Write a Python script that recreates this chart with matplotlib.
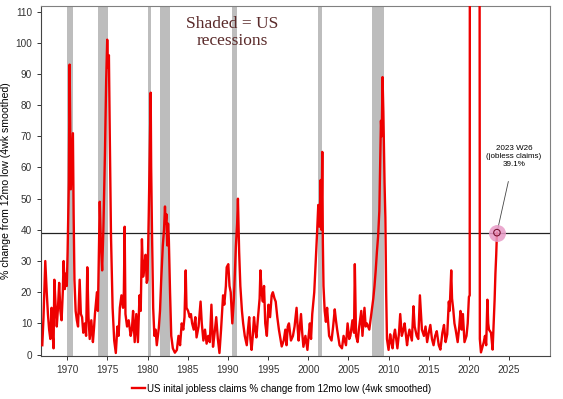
import matplotlib
matplotlib.use("Agg")
import matplotlib.pyplot as plt

plt.rcParams['font.family'] = ['Liberation Sans', 'DejaVu Sans']

# weekly series (year, % change from 12mo low)
years = [
    1966.9, 1967.05, 1967.27, 1967.45, 1967.6, 1967.75, 1967.9, 1968.05, 1968.2, 1968.3,
    1968.4, 1968.55, 1968.7, 1968.85, 1969.0, 1969.15, 1969.3, 1969.45, 1969.55, 1969.7,
    1969.85, 1969.95, 1970.05, 1970.2, 1970.3, 1970.45, 1970.55, 1970.71, 1970.8, 1970.9,
    1971.05, 1971.2, 1971.35, 1971.55, 1971.7, 1971.85, 1972.0, 1972.2, 1972.35, 1972.5,
    1972.65, 1972.8, 1973.0, 1973.2, 1973.35, 1973.45, 1973.7, 1973.82, 1973.9, 1974.05,
    1974.2, 1974.35, 1974.5, 1974.7, 1974.85, 1974.98, 1975.08, 1975.19, 1975.3, 1975.45,
    1975.65, 1975.85, 1976.05, 1976.25, 1976.4, 1976.55, 1976.75, 1976.95, 1977.05, 1977.15,
    1977.25, 1977.45, 1977.65, 1977.9, 1978.05, 1978.2, 1978.4, 1978.6, 1978.8, 1979.0,
    1979.15, 1979.3, 1979.45, 1979.55, 1979.75, 1979.9, 1980.0, 1980.15, 1980.39, 1980.45,
    1980.55, 1980.7, 1980.85, 1981.0, 1981.15, 1981.4, 1981.55, 1981.7, 1981.9, 1982.05,
    1982.17, 1982.25, 1982.35, 1982.45, 1982.55, 1982.65, 1982.8, 1982.95, 1983.15, 1983.4,
    1983.65, 1983.85, 1984.05, 1984.25, 1984.45, 1984.6, 1984.75, 1984.85, 1985.05, 1985.25,
    1985.4, 1985.55, 1985.75, 1985.95, 1986.1, 1986.35, 1986.6, 1986.75, 1986.95, 1987.15,
    1987.35, 1987.55, 1987.75, 1987.95, 1988.15, 1988.35, 1988.55, 1988.75, 1988.95, 1989.15,
    1989.4, 1989.55, 1989.75, 1989.85, 1990.05, 1990.2, 1990.35, 1990.55, 1990.75, 1990.9,
    1991.0, 1991.15, 1991.25, 1991.4, 1991.55, 1991.75, 1991.9, 1992.1, 1992.35, 1992.5,
    1992.65, 1992.8, 1992.95, 1993.1, 1993.25, 1993.4, 1993.55, 1993.75, 1993.95, 1994.05,
    1994.2, 1994.35, 1994.5, 1994.65, 1994.85, 1995.05, 1995.25, 1995.45, 1995.6, 1995.8,
    1995.95, 1996.15, 1996.35, 1996.55, 1996.7, 1996.95, 1997.15, 1997.3, 1997.45, 1997.6,
    1997.85, 1998.1, 1998.3, 1998.55, 1998.7, 1998.8, 1999.1, 1999.25, 1999.4, 1999.65,
    1999.9, 2000.05, 2000.2, 2000.35, 2000.5, 2000.75, 2000.9, 2001.1, 2001.25, 2001.4,
    2001.55, 2001.65, 2001.75, 2001.82, 2001.9, 2002.05, 2002.2, 2002.35, 2002.6, 2002.9,
    2003.1, 2003.3, 2003.45, 2003.6, 2003.9, 2004.2, 2004.4, 2004.7, 2004.9, 2005.1,
    2005.25, 2005.5, 2005.7, 2005.8, 2005.95, 2006.15, 2006.3, 2006.6, 2006.75, 2007.0,
    2007.15, 2007.3, 2007.6, 2007.9, 2008.1, 2008.25, 2008.4, 2008.55, 2008.7, 2008.85,
    2008.95, 2009.05, 2009.15, 2009.25, 2009.35, 2009.5, 2009.6, 2009.7, 2009.8, 2010.0,
    2010.2, 2010.35, 2010.5, 2010.65, 2010.8, 2011.1, 2011.3, 2011.45, 2011.65, 2011.85,
    2012.0, 2012.3, 2012.45, 2012.6, 2012.9, 2013.1, 2013.25, 2013.5, 2013.7, 2013.9,
    2014.15, 2014.4, 2014.6, 2014.8, 2015.0, 2015.2, 2015.4, 2015.6, 2015.8, 2016.0,
    2016.25, 2016.45, 2016.7, 2016.9, 2017.1, 2017.3, 2017.5, 2017.6, 2017.8, 2017.9,
    2018.05, 2018.2, 2018.35, 2018.6, 2018.8, 2018.95, 2019.1, 2019.25, 2019.45, 2019.7,
    2019.85, 2020.0, 2020.1, 2020.22, 2020.6, 2021.0, 2021.3, 2021.36, 2021.5, 2021.7,
    2021.85, 2022.0, 2022.15, 2022.3, 2022.4, 2022.5, 2022.75, 2022.95, 2023.1, 2023.2,
    2023.3, 2023.4, 2023.49,
]
claims_pct = [
    3, 12, 30, 20, 13, 8, 5, 15, 6, 2,
    24, 16, 9, 15, 23, 14, 11, 20, 30, 21,
    26, 22, 33, 55, 93, 53, 60, 71, 45, 24,
    14, 11, 9, 24, 13, 12, 7, 10, 6, 28,
    12, 5, 11, 4, 9, 13, 20, 14, 26, 49,
    35, 27, 40, 65, 88, 101, 92, 96, 70, 38,
    15, 4.5, 0.5, 9, 6, 15, 19, 15, 20, 41,
    13, 9, 11, 6, 8, 14, 4, 13, 4, 19,
    14, 37, 25, 27, 32, 23, 24, 45, 84, 60,
    40, 15, 6, 8, 3, 8.5, 14, 24, 35, 40,
    47.5, 42, 45, 35, 42, 37, 20, 6, 2, 0.6,
    1.5, 6, 3, 10, 8, 12, 27, 15, 14, 12,
    13, 10, 8, 12, 5.5, 9, 17, 10, 4.5, 8,
    3.5, 6, 4, 16, 2.5, 7, 12, 5, 0.5, 8,
    19, 16, 22, 28, 29, 22, 20, 10, 18, 28,
    35, 42, 50, 33, 22, 14, 10, 6, 3, 8,
    12, 5, 1.5, 6, 12, 8, 5.5, 12, 18, 27,
    20, 17, 22, 10, 6, 16, 12, 19, 20, 18,
    17, 12, 8, 5, 2.6, 4.5, 8, 3, 9, 10,
    4.5, 6, 9, 15, 8, 4.5, 13, 7, 2.5, 6,
    1.5, 6, 10, 5, 13, 20, 28, 39, 48, 41,
    56, 40, 65, 36, 22, 14, 10.5, 15, 6, 4.5,
    9, 14.5, 11, 8, 3, 2, 6, 3, 10, 5,
    6, 11, 7, 29, 6, 4, 8, 14, 6, 15,
    9, 10, 8, 14, 18, 22, 27, 33, 38, 46,
    60, 75, 70, 89, 78, 55, 44, 20, 5, 1.5,
    6.5, 4, 2, 6, 8, 2, 7, 13, 6, 8,
    10, 3, 6, 8, 4.5, 15.5, 9, 6, 5, 19,
    8, 6, 9, 4, 7, 9.5, 5, 3, 6, 7.5,
    3, 1.6, 7, 9.5, 4, 6.5, 17, 14, 27, 18,
    14.5, 10, 8, 4, 9, 14, 8, 13, 4, 6,
    10, 18.5, 19, 900, 700, 400, 250, 5, 0.7, 2.6,
    4, 6, 3, 17.6, 10, 8, 7, 1.6, 11, 17.6,
    26, 32, 39.1,
]

recession_start = [1969.93, 1973.86, 1980.0, 1981.54, 1990.55, 2001.17, 2007.99]
recession_end = [1970.7, 1975.05, 1980.42, 1982.75, 1991.12, 2001.76, 2009.37]

last_year = 2023.49
last_value = 39.1

fig = plt.figure(figsize=(5.63, 3.99), dpi=100)
ax = fig.add_axes([0.073, 0.109, 0.904, 0.876])

for s, e in zip(recession_start, recession_end):
    ax.axvspan(s, e, color='#bdbdbd', lw=0, zorder=0)

ax.plot(years, claims_pct, color='#ee0000', lw=1.7, zorder=3,
        label='US inital jobless claims % change from 12mo low (4wk smoothed)')
ax.axhline(last_value, color='#222222', lw=0.9, zorder=2)

# highlight latest reading
ax.scatter([last_year], [last_value], s=150, color='#e79ac6', alpha=0.85, zorder=4, lw=0)
ax.scatter([last_year], [last_value], s=22, facecolor='none', edgecolor='#7a1030', lw=0.8, zorder=5)
ax.annotate('2023 W26\n(jobless claims)\n39.1%', xy=(last_year, last_value),
            xytext=(2025.6, 63.5), ha='center', va='center', fontsize=5.8,
            linespacing=1.15,
            arrowprops=dict(arrowstyle='-', color='#444444', lw=0.6, shrinkA=8, shrinkB=2))

ax.text(0.375, 0.925, 'Shaded = US\nrecessions', transform=ax.transAxes,
        ha='center', va='center', fontsize=12.5, family='Liberation Serif',
        color='#5a2a2a', linespacing=1.1)

ax.set_xlim(1966.75, 2030.1)
ax.set_ylim(-0.3, 111.8)
ax.set_xticks(range(1970, 2026, 5))
ax.set_yticks(range(0, 111, 10))
ax.tick_params(labelsize=7.2, length=3, width=0.7, colors='#333333')
ax.set_ylabel('% change from 12mo low (4wk smoothed)', fontsize=7.6, labelpad=3)
for side in ['top', 'right']:
    ax.spines[side].set_color('#808080')
for side in ['left', 'bottom']:
    ax.spines[side].set_color('#444444')

fig.legend(loc='center', bbox_to_anchor=(0.5, 0.026), frameon=False, fontsize=7,
           handlelength=1.3, handletextpad=0.2)

fig.savefig('out.png', dpi=100)
